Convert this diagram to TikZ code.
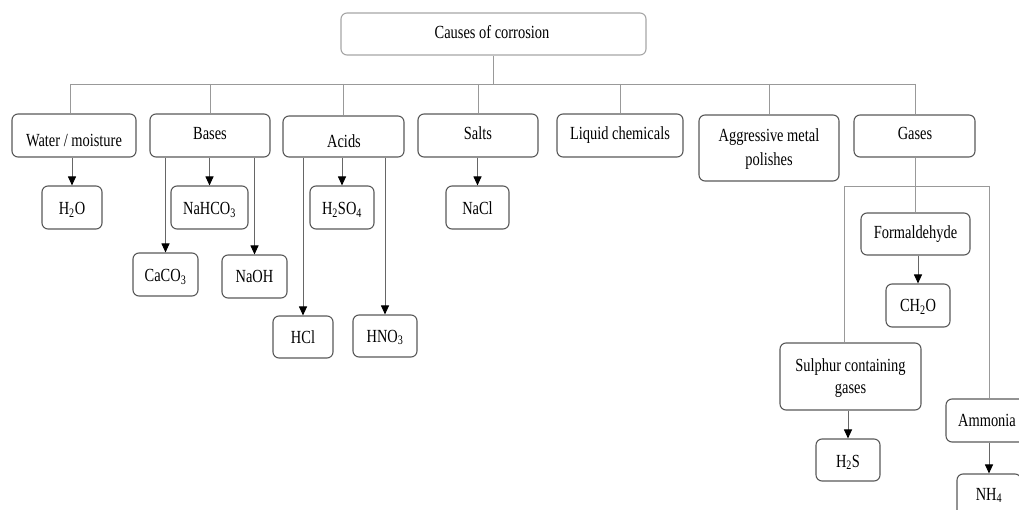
\documentclass[tikz,border=0pt]{standalone}
\usepackage{fontspec}
\setmainfont{Liberation Serif}[FakeStretch=0.78]
\usetikzlibrary{arrows.meta,fit}
\tikzset{
  box/.style={draw=black!65, line width=1.1pt, rounded corners=6pt, inner sep=0pt, fill=white},
  topbox/.style={box, draw=black!35},
  lbl/.style={inner sep=0pt, anchor=base, font=\fontsize{18.5}{22}\selectfont},
  conn/.style={draw=black!40, line width=0.9pt},
  arr/.style={draw=black!60, line width=1pt, -{Triangle[length=9pt,width=8pt,color=black,fill=black]}}
}
\begin{document}
\begin{tikzpicture}[x=1pt,y=-1pt]
\useasboundingbox (0,0) rectangle (1019,510);
\clip (0,0) rectangle (1019,510);
\coordinate (busL) at (70,84);
\coordinate (busR) at (915,84);
\coordinate (gL) at (844,186);
\coordinate (gR) at (989,186);
% boxes
\node[topbox, fit={(341,13)(646,55)}] (top) {};
\node[box, fit={(12,114)(136,157)}] (water) {};
\node[box, fit={(150,114)(270,157)}] (bases) {};
\node[box, fit={(283,116)(404,157)}] (acids) {};
\node[box, fit={(418,114)(538,157)}] (salts) {};
\node[box, fit={(557,114)(683,157)}] (liquid) {};
\node[box, fit={(699,115)(839,181)}] (aggr) {};
\node[box, fit={(854,115)(975,157)}] (gases) {};
\node[box, fit={(42,186)(102,229)}] (h2o) {};
\node[box, fit={(171,186)(248,229)}] (nahco3) {};
\node[box, fit={(133,253)(198,296)}] (caco3) {};
\node[box, fit={(222,255)(287,298)}] (naoh) {};
\node[box, fit={(310,186)(374,229)}] (h2so4) {};
\node[box, fit={(273,316)(333,358)}] (hcl) {};
\node[box, fit={(353,315)(417,357)}] (hno3) {};
\node[box, fit={(446,186)(509,229)}] (nacl) {};
\node[box, fit={(861,213)(970,255)}] (form) {};
\node[box, fit={(886,284)(950,327)}] (ch2o) {};
\node[box, fit={(780,343)(921,410)}] (sulph) {};
\node[box, fit={(816,439)(880,481)}] (h2s) {};
\node[box, fit={(946,399)(1032,442)}] (ammo) {};
\node[box, fit={(957,474)(1021,517)}] (nh4) {};
% labels
\node[lbl] (topT) at (492,39) {Causes of corrosion};
\node[lbl] (waterT) at (74,147) {Water / moisture};
\node[lbl] (basesT) at (210,140) {Bases};
\node[lbl] (acidsT) at (344,148) {Acids};
\node[lbl] (saltsT) at (478,140) {Salts};
\node[lbl] (liquidT) at (620,140) {Liquid chemicals};
\node[lbl] (aggrT1) at (769,142) {Aggressive metal};
\node[lbl] (aggrT2) at (769,166) {polishes};
\node[lbl] (gasesT) at (915,140) {Gases};
\node[lbl] (h2oT) at (72,215) {H\textsubscript{2}O};
\node[lbl] (nahco3T) at (209.5,215) {NaHCO\textsubscript{3}};
\node[lbl] (caco3T) at (165.5,282) {CaCO\textsubscript{3}};
\node[lbl] (naohT) at (254.5,283) {NaOH};
\node[lbl] (h2so4T) at (342,215) {H\textsubscript{2}SO\textsubscript{4}};
\node[lbl] (hclT) at (303,343) {HCl};
\node[lbl] (hno3T) at (385,342) {HNO\textsubscript{3}};
\node[lbl] (naclT) at (477.5,215) {NaCl};
\node[lbl] (formT) at (915.5,239) {Formaldehyde};
\node[lbl] (ch2oT) at (918,312) {CH\textsubscript{2}O};
\node[lbl] (sulphT1) at (850.5,371) {Sulphur containing};
\node[lbl] (sulphT2) at (850.5,393) {gases};
\node[lbl] (h2sT) at (848,467) {H\textsubscript{2}S};
\node[lbl] (ammoT) at (987,426) {Ammonia};
\node[lbl] (nh4T) at (989,500) {NH\textsubscript{4}};
% tree connectors
\draw[conn] (top.south) -- (top.south |- busL);
\draw[conn] (busL) -- (busR);
\draw[conn] (busL) -- (water.north -| busL);
\draw[conn] (bases.north |- busL) -- (bases.north);
\draw[conn] (acids.north |- busL) -- (acids.north);
\draw[conn] (salts.north |- busL) -- (salts.north);
\draw[conn] (liquid.north |- busL) -- (liquid.north);
\draw[conn] (aggr.north |- busL) -- (aggr.north);
\draw[conn] (busR) -- (gases.north -| busR);
\draw[conn] (gases.south -| busR) -- (form.north -| busR);
\draw[conn] (gL) -- (gR);
\draw[conn] (gL) -- (sulph.north -| gL);
\draw[conn] (gR) -- (ammo.north -| gR);
% arrows
\draw[arr] (water.south -| h2o.north) -- (h2o.north);
\draw[arr] (bases.south -| nahco3.north) -- (nahco3.north);
\draw[arr] (bases.south -| caco3.north) -- (caco3.north);
\draw[arr] (bases.south -| naoh.north) -- (naoh.north);
\draw[arr] (acids.south -| h2so4.north) -- (h2so4.north);
\draw[arr] (acids.south -| hcl.north) -- (hcl.north);
\draw[arr] (acids.south -| hno3.north) -- (hno3.north);
\draw[arr] (salts.south -| nacl.north) -- (nacl.north);
\draw[arr] (form.south -| ch2o.north) -- (ch2o.north);
\draw[arr] (sulph.south -| h2s.north) -- (h2s.north);
\draw[arr] (ammo.south -| gR) -- (nh4.north -| gR);
\end{tikzpicture}
\end{document}
